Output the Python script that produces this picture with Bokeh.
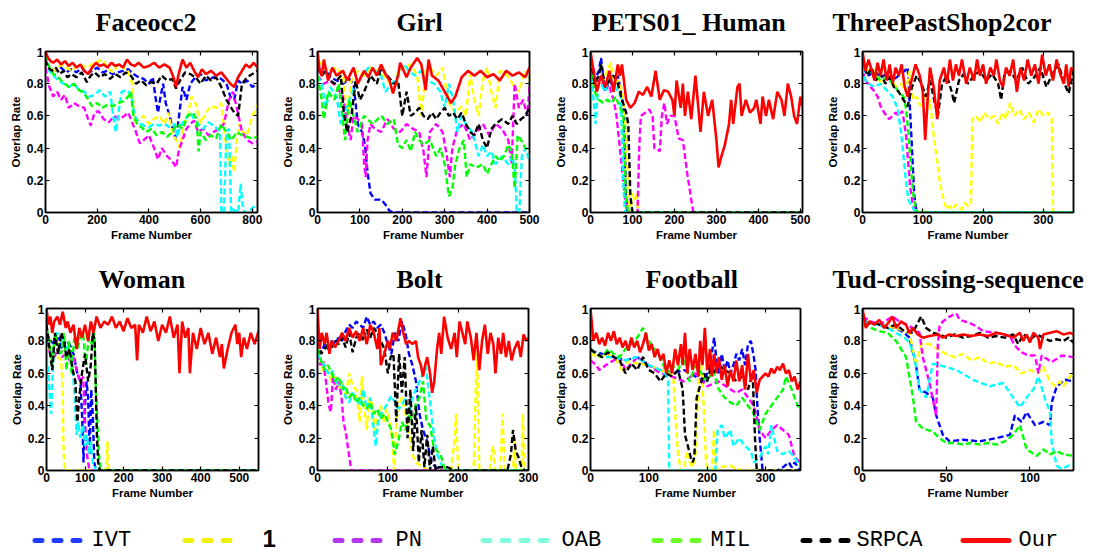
from bokeh.plotting import figure
from bokeh.layouts import column, row
from bokeh.models import FixedTicker, LinearAxis, Range1d, CustomJSTickFormatter
from bokeh.embed import file_html
from bokeh.resources import INLINE
from bokeh.core.properties import value

SERIES = ["IVT", "1", "PN", "OAB", "MIL", "SRPCA", "Our"]
PLOT_COLORS = ["#0000ff", "#ffff00", "#ff00ff", "#00ffff", "#00ff00", "#000000", "#ff0000"]
LEGEND_COLORS = ["#1f3cff", "#eef200", "#b534f2", "#80ffdc", "#6cff26", "#000000", "#ff0a0a"]
Y_TICKS = [0, 0.2, 0.4, 0.6, 0.8, 1]

# ---------------- Faceocc2 ----------------
face_title = "Faceocc2"
face_xmax = 820
face_xticks = [0, 200, 400, 600, 800]
face_ivt_x = [0,20,40,60,80, 100,120,140,160,180, 200,220,240,260,280, 300,320,340,360,380, 400,415,425,435,445, 455,465,480,495,505, 515,530,545,560,580, 600,620,650,680,700, 715,730,745,760,780, 800,820]
face_ivt_y = [0.93,0.9,0.88,0.9,0.87, 0.89,0.87,0.9,0.86,0.88, 0.9,0.87,0.88,0.86,0.87, 0.88,0.89,0.86,0.84,0.83, 0.8,0.84,0.72,0.62,0.72, 0.8,0.68,0.6,0.5,0.45, 0.58,0.78,0.7,0.8,0.84, 0.86,0.82,0.84,0.83,0.8, 0.72,0.7,0.82,0.8,0.82, 0.78,0.8]
face_one_x = [0,20,40,60,80, 100,130,160,190,220, 240,260,280,300,320, 335,345,360,380,400, 420,440,460,475,490, 505,520,535,550,565, 580,600,620,640,660, 680,700,710,720,730, 740,750,765,780,800, 820]
face_one_y = [0.93,0.9,0.88,0.92,0.9, 0.88,0.92,0.9,0.93,0.95, 0.9,0.87,0.92,0.9,0.88, 0.8,0.55,0.58,0.6,0.55, 0.58,0.6,0.55,0.62,0.5, 0.45,0.4,0.55,0.6,0.72, 0.68,0.55,0.62,0.66,0.65, 0.68,0.4,0.3,0.35,0.25, 0.45,0.55,0.5,0.48,0.6, 0.67]
face_pn_x = [0,15,30,45,60, 75,90,110,130,150, 165,175,190,205,225, 245,265,285,305,320, 335,350,365,380,400, 420,435,450,470,490, 505,515,530,545,560, 575,590,610,630,650, 670,690,710,725,740, 760,780,800,820]
face_pn_y = [0.9,0.78,0.72,0.75,0.7, 0.73,0.65,0.68,0.66,0.65, 0.58,0.54,0.62,0.63,0.58, 0.56,0.6,0.58,0.6,0.62, 0.56,0.5,0.43,0.45,0.48, 0.4,0.33,0.4,0.35,0.32, 0.28,0.38,0.45,0.52,0.55, 0.57,0.5,0.52,0.48,0.5, 0.52,0.55,0.7,0.75,0.65, 0.5,0.45,0.43,0.44]
face_oab_x = [0,15,30,50,70, 90,110,130,150,170, 190,210,230,250,262, 272,282,295,310,330, 345,360,380,400,420, 440,460,480,500,510, 520,540,560,575,590, 610,630,650,665,675, 680,690,700,710,718, 725,735,745,755,762, 770,780,795,810,820]
face_oab_y = [0.95,0.88,0.85,0.82,0.8, 0.78,0.8,0.76,0.75,0.72, 0.73,0.76,0.72,0.75,0.6, 0.5,0.62,0.75,0.76,0.74, 0.6,0.56,0.54,0.53,0.55, 0.54,0.55,0.53,0.55,0.47, 0.53,0.58,0.62,0.58,0.55, 0.52,0.56,0.54,0.52,0.5, 0.0,0.0,0.5,0.52,0.0, 0.02,0.01,0.0,0.18,0.05, 0.0,0.0,0.02,0.04,0.05]
face_mil_x = [0,15,30,45,60, 75,90,110,130,150, 165,180,200,220,240, 260,280,300,320,330, 340,355,370,390,410, 430,450,470,490,510, 530,550,570,585,592, 600,620,640,660,680, 700,720,740,760,780, 800,820]
face_mil_y = [0.98,0.9,0.86,0.85,0.82, 0.8,0.78,0.8,0.76,0.74, 0.7,0.66,0.68,0.65,0.67, 0.66,0.68,0.69,0.72,0.75, 0.6,0.55,0.53,0.5,0.52, 0.48,0.5,0.47,0.5,0.55, 0.52,0.6,0.62,0.58,0.38, 0.5,0.45,0.48,0.46,0.55, 0.5,0.45,0.5,0.48,0.47, 0.46,0.47]
face_srpca_x = [0,10,25,40,55, 70,85,100,120,140, 160,175,190,210,230, 250,270,290,310,330, 350,370,390,410,430, 450,470,490,505,520, 540,560,580,600,620, 640,660,680,700,715, 730,745,760,780,800, 820]
face_srpca_y = [0.95,0.9,0.88,0.9,0.86, 0.88,0.84,0.86,0.84,0.87, 0.81,0.85,0.87,0.84,0.86, 0.83,0.86,0.84,0.87,0.85, 0.8,0.82,0.79,0.81,0.8, 0.85,0.82,0.83,0.77,0.82, 0.87,0.86,0.84,0.8,0.85, 0.82,0.84,0.78,0.7,0.66, 0.62,0.6,0.8,0.84,0.86, 0.88]
face_our_x = [0,10,20,30,45, 60,75,90,105,120, 135,150,165,180,195, 210,225,240,255,270, 285,300,315,330,345, 360,380,400,420,440, 460,480,495,505,515, 530,545,560,575,590, 605,620,640,660,680, 700,715,730,745,760, 775,790,805,820]
face_our_y = [1.0,0.96,0.94,0.93,0.95, 0.92,0.94,0.91,0.93,0.9, 0.92,0.88,0.86,0.9,0.93, 0.91,0.92,0.9,0.93,0.91, 0.92,0.9,0.95,0.92,0.91, 0.93,0.9,0.91,0.93,0.9, 0.92,0.9,0.84,0.78,0.86, 0.95,0.9,0.93,0.88,0.84, 0.89,0.86,0.88,0.85,0.87, 0.83,0.8,0.78,0.84,0.88, 0.92,0.9,0.93,0.9]

# ---------------- Girl ----------------
girl_title = "Girl"
girl_xmax = 500
girl_xticks = [0, 100, 200, 300, 400, 500]
girl_ivt_x = [0,10,20,30,45, 60,75,85,95,105, 112,118,125,135,150, 160,170,180,500]
girl_ivt_y = [0.92,0.86,0.88,0.84,0.82, 0.8,0.83,0.8,0.55,0.5, 0.42,0.25,0.12,0.08,0.08, 0.05,0.01,0.0,0.0]
girl_one_x = [0,15,30,45,60, 70,80,95,110,125, 140,150,160,170,180, 190,205,220,235,245, 255,265,280,295,310, 325,340,350,360,370, 380,390,400,410,420, 430,445,460,475,490, 500]
girl_one_y = [0.95,0.9,0.88,0.9,0.85, 0.6,0.82,0.88,0.85,0.9, 0.88,0.86,0.84,0.8,0.75, 0.88,0.9,0.92,0.85,0.6, 0.88,0.9,0.85,0.9,0.68, 0.62,0.66,0.6,0.86,0.7, 0.6,0.82,0.9,0.75,0.65, 0.88,0.86,0.8,0.75,0.88, 0.82]
girl_pn_x = [0,15,30,45,60, 70,78,85,95,105, 110,114,118,125,135, 150,165,180,195,210, 225,240,250,257,265, 280,295,305,312,318, 330,345,360,375,390, 405,420,435,450,458, 465,475,485,495,500]
girl_pn_y = [0.85,0.8,0.82,0.78,0.72, 0.55,0.45,0.6,0.58,0.55, 0.3,0.22,0.45,0.55,0.52, 0.5,0.58,0.52,0.5,0.55, 0.52,0.5,0.38,0.22,0.5, 0.55,0.5,0.35,0.22,0.4, 0.52,0.55,0.45,0.5,0.55, 0.48,0.55,0.52,0.45,0.3, 0.8,0.65,0.7,0.6,0.78]
girl_oab_x = [0,10,20,30,45, 55,65,75,90,105, 120,135,150,160,175, 190,205,215,230,245, 260,275,290,300,310, 320,330,340,350,365, 380,390,400,410,420, 435,450,460,466,470, 476,482,490,500]
girl_oab_y = [0.85,0.8,0.65,0.78,0.72, 0.55,0.62,0.7,0.8,0.85, 0.9,0.88,0.85,0.75,0.8, 0.85,0.92,0.88,0.85,0.88, 0.82,0.8,0.75,0.65,0.8, 0.7,0.5,0.6,0.55,0.5, 0.35,0.42,0.35,0.38,0.3, 0.35,0.3,0.35,0.25,0.0, 0.0,0.35,0.4,0.32]
girl_mil_x = [0,10,15,25,40, 50,58,65,75,85, 95,110,130,150,165, 180,190,200,210,220, 230,240,250,265,280, 290,300,305,310,318, 325,335,345,352,360, 375,390,400,410,420, 430,440,450,458,465, 472,480,490,500]
girl_mil_y = [0.85,0.7,0.58,0.75,0.7, 0.8,0.62,0.45,0.7,0.6, 0.5,0.6,0.55,0.6,0.55, 0.58,0.42,0.4,0.45,0.38, 0.5,0.45,0.42,0.45,0.35, 0.4,0.3,0.2,0.1,0.15, 0.3,0.4,0.45,0.22,0.3, 0.28,0.3,0.24,0.3,0.35, 0.32,0.35,0.42,0.38,0.15, 0.48,0.45,0.4,0.38]
girl_srpca_x = [0,10,20,30,40, 55,62,70,80,90, 100,110,125,140,150, 165,180,190,200,210, 220,230,240,250,260, 270,280,290,300,310, 320,330,340,350,360, 370,380,390,400,410, 420,435,450,460,470, 480,490,500]
girl_srpca_y = [0.9,0.85,0.88,0.82,0.8, 0.85,0.62,0.5,0.6,0.82, 0.7,0.75,0.85,0.8,0.9, 0.85,0.8,0.82,0.6,0.75, 0.6,0.62,0.65,0.6,0.58, 0.62,0.58,0.62,0.65,0.6, 0.62,0.58,0.62,0.55,0.5, 0.48,0.55,0.45,0.4,0.52, 0.55,0.58,0.55,0.6,0.55, 0.58,0.6,0.65]
girl_our_x = [0,5,10,15,25, 35,45,60,70,85, 95,110,120,130,140, 150,160,170,178,190, 195,210,220,235,245, 255,262,270,285,300, 315,325,340,355,370, 385,400,415,430,445, 460,475,490,500]
girl_our_y = [1.0,0.88,0.85,0.95,0.82, 0.9,0.85,0.88,0.82,0.9, 0.8,0.88,0.84,0.9,0.85, 0.92,0.86,0.82,0.74,0.85, 0.93,0.84,0.9,0.96,0.92, 0.76,0.95,0.85,0.82,0.75, 0.68,0.72,0.84,0.88,0.85, 0.88,0.84,0.86,0.82,0.88, 0.85,0.87,0.84,0.9]

# ---------------- PETS01_ Human ----------------
pets_title = "PETS01_ Human"
pets_xmax = 505
pets_xticks = [0, 100, 200, 300, 400, 500]
pets_ivt_x = [0,10,20,25,35, 45,55,65,75,80, 85,88,505]
pets_ivt_y = [0.95,0.82,0.88,0.96,0.75, 0.82,0.78,0.85,0.72,0.6, 0.1,0.0,0.0]
pets_one_x = [0,10,20,30,40, 48,55,65,75,85, 90,95,100,105,110, 113,116,505]
pets_one_y = [0.95,0.8,0.85,0.82,0.88, 0.93,0.8,0.82,0.75,0.5, 0.1,0.0,0.12,0.08,0.12, 0.0,0.0,0.0]
pets_pn_x = [0,15,30,45,55, 62,70,78,84,88, 112,116,120,130,140, 148,152,158,165,170, 176,182,190,200,210, 220,230,240,245,505]
pets_pn_y = [0.95,0.82,0.8,0.78,0.7, 0.6,0.4,0.2,0.05,0.0, 0.0,0.4,0.6,0.62,0.64, 0.6,0.4,0.4,0.38,0.6, 0.68,0.55,0.6,0.6,0.46, 0.45,0.25,0.08,0.0,0.0]
pets_oab_x = [0,8,12,18,25, 35,45,55,65,72, 78,82,505]
pets_oab_y = [0.9,0.68,0.55,0.78,0.8, 0.75,0.85,0.8,0.75,0.72, 0.2,0.0,0.0]
pets_mil_x = [0,10,20,30,40, 50,60,70,78,84, 90,505]
pets_mil_y = [0.92,0.75,0.7,0.68,0.7, 0.68,0.72,0.65,0.62,0.1, 0.0,0.0]
pets_srpca_x = [0,10,20,25,35, 45,55,65,75,85, 90,95,100,505]
pets_srpca_y = [0.95,0.8,0.85,0.92,0.78, 0.82,0.85,0.8,0.7,0.62, 0.55,0.1,0.0,0.0]
pets_our_x = [0,15,25,35,45, 55,65,70,75,85, 95,105,115,125,135, 145,155,165,175,185, 195,200,205,215,220, 225,232,240,250,262, 270,280,290,300,305, 312,320,330,335,340, 350,355,360,370,380, 390,395,405,410,418, 425,435,445,455,462, 470,478,485,492,500, 505]
pets_our_y = [1.0,0.75,0.85,0.78,0.88, 0.75,0.92,0.85,0.92,0.7, 0.65,0.68,0.75,0.73,0.78, 0.72,0.88,0.7,0.76,0.75, 0.7,0.6,0.82,0.65,0.8, 0.6,0.75,0.58,0.85,0.5, 0.75,0.6,0.7,0.45,0.28, 0.35,0.42,0.55,0.7,0.55, 0.78,0.8,0.6,0.7,0.62, 0.65,0.7,0.55,0.72,0.6, 0.7,0.58,0.75,0.7,0.6, 0.8,0.72,0.6,0.55,0.72, 0.66]

# ---------------- ThreePastShop2cor ----------------
shop_title = "ThreePastShop2cor"
shop_xmax = 350
shop_xticks = [0, 100, 200, 300]
shop_ivt_x = [0,10,20,30,40, 50,60,70,75,78, 82,86,90,350]
shop_ivt_y = [0.9,0.85,0.88,0.84,0.86, 0.82,0.85,0.88,0.9,0.7, 0.4,0.1,0.0,0.0]
shop_one_x = [0,8,16,24,32, 40,48,56,64,72, 78,84,90,96,102, 108,112,116,120,124, 128,132,136,140,145, 150,155,160,165,170, 175,180,182,188,195, 202,210,218,225,232, 238,245,252,260,268, 276,284,292,300,308, 314,316,350]
shop_one_y = [0.93,0.88,0.9,0.84,0.8, 0.85,0.82,0.78,0.8,0.75, 0.88,0.7,0.72,0.66,0.74, 0.65,0.7,0.55,0.42,0.32, 0.2,0.12,0.06,0.02,0.04, 0.02,0.05,0.03,0.02,0.06, 0.04,0.06,0.58,0.6,0.56, 0.62,0.58,0.6,0.55,0.62, 0.58,0.68,0.6,0.64,0.58, 0.62,0.56,0.64,0.6,0.62, 0.58,0.0,0.0]
shop_pn_x = [0,5,11,18,25, 30,36,44,50,55, 60,66,72,76,79, 83,88,350]
shop_pn_y = [0.88,0.82,0.79,0.76,0.72, 0.66,0.62,0.58,0.6,0.62, 0.6,0.63,0.49,0.3,0.16, 0.06,0.0,0.0]
shop_oab_x = [0,5,10,20,30, 40,50,58,64,68, 72,76,80,85,90, 350]
shop_oab_y = [0.9,0.82,0.8,0.78,0.8, 0.76,0.72,0.65,0.5,0.35, 0.2,0.08,0.05,0.02,0.0, 0.0]
shop_mil_x = [0,10,20,30,40, 50,60,68,72,76, 80,84,88,92,350]
shop_mil_y = [0.92,0.88,0.86,0.82,0.84, 0.8,0.75,0.72,0.65,0.5, 0.3,0.12,0.03,0.0,0.0]
shop_srpca_x = [0,8,15,22,30, 38,45,52,60,68, 75,82,90,98,105, 112,120,125,132,140, 148,152,160,168,175, 185,195,205,215,225, 230,235,245,255,265, 275,285,295,305,315, 325,335,342,350]
shop_srpca_y = [0.95,0.85,0.9,0.82,0.86, 0.8,0.84,0.78,0.75,0.7, 0.66,0.78,0.85,0.8,0.72, 0.82,0.68,0.6,0.8,0.85, 0.75,0.68,0.82,0.86,0.8, 0.85,0.88,0.82,0.86,0.8, 0.7,0.85,0.88,0.82,0.9, 0.8,0.84,0.9,0.78,0.86, 0.92,0.8,0.74,0.88]
shop_our_x = [0,5,10,20,25, 30,35,40,45,50, 55,60,65,70,75, 80,88,95,100,104, 108,112,118,124,128, 135,140,145,150,155, 160,165,172,178,185, 190,195,200,205,212, 218,222,228,233,238, 244,250,256,262,268, 274,280,286,292,298, 304,310,316,322,328, 334,338,342,346,350]
shop_our_y = [1.0,0.88,0.95,0.82,0.93, 0.85,0.95,0.82,0.92,0.8, 0.9,0.85,0.92,0.78,0.72, 0.8,0.92,0.85,0.75,0.45, 0.7,0.9,0.78,0.58,0.82, 0.9,0.8,0.95,0.82,0.92, 0.85,0.95,0.8,0.9,0.82, 0.95,0.85,0.92,0.8,0.9, 0.85,0.95,0.82,0.78,0.9, 0.85,0.95,0.75,0.9,0.82, 0.95,0.85,0.92,0.8,0.98, 0.85,0.92,0.82,0.95,0.86, 0.8,0.92,0.78,0.9,0.88]

# ---------------- Woman ----------------
woman_title = "Woman"
woman_xmax = 550
woman_xticks = [0, 100, 200, 300, 400, 500]
woman_ivt_x = [0,10,20,30,40, 50,60,70,80,88, 93,96,100,104,108, 112,116,120,124,128, 550]
woman_ivt_y = [0.85,0.8,0.78,0.82,0.75, 0.8,0.78,0.72,0.6,0.55, 0.3,0.05,0.4,0.55,0.45, 0.1,0.5,0.35,0.05,0.0, 0.0]
woman_one_x = [0,10,20,30,38, 42,44,46,48,150, 155,158,160,163,550]
woman_one_y = [0.78,0.72,0.7,0.7,0.68, 0.5,0.15,0.05,0.0,0.0, 0.02,0.18,0.02,0.0,0.0]
woman_pn_x = [0,10,20,30,40, 50,60,70,80,88, 95,100,105,110,115, 550]
woman_pn_y = [0.8,0.72,0.7,0.75,0.7, 0.72,0.68,0.7,0.6,0.55, 0.58,0.3,0.1,0.02,0.0, 0.0]
woman_oab_x = [0,5,10,12,15, 20,28,35,45,55, 65,72,78,82,88, 95,100,105,110,115, 120,125,130,550]
woman_oab_y = [0.7,0.6,0.4,0.35,0.55, 0.8,0.85,0.82,0.78,0.75, 0.7,0.5,0.22,0.3,0.2, 0.28,0.15,0.22,0.1,0.18, 0.05,0.02,0.0,0.0]
woman_mil_x = [0,8,15,22,30, 38,45,52,58,65, 72,80,88,95,102, 110,118,124,128,132, 136,140,550]
woman_mil_y = [0.88,0.8,0.65,0.85,0.78, 0.72,0.85,0.62,0.8,0.6, 0.82,0.75,0.82,0.85,0.65, 0.82,0.78,0.85,0.5,0.3, 0.1,0.0,0.0]
woman_srpca_x = [0,8,15,22,30, 38,45,52,60,68, 75,80,85,92,100, 108,115,120,125,128, 131,134,138,550]
woman_srpca_y = [0.9,0.75,0.62,0.85,0.72, 0.85,0.8,0.7,0.75,0.62, 0.55,0.3,0.45,0.6,0.72, 0.55,0.65,0.85,0.8,0.5, 0.2,0.05,0.0,0.0]
woman_our_x = [0,5,10,15,20, 28,35,42,50,55, 62,70,78,85,92, 100,108,115,122,130, 140,150,160,170,180, 190,200,210,220,230, 235,240,250,260,270, 280,290,300,310,320, 330,340,345,352,360, 368,372,380,390,400, 410,420,430,440,450, 455,460,470,480,490, 495,500,505,512,520, 530,540,550]
woman_our_y = [1.0,0.9,0.95,0.85,0.92, 0.95,0.9,0.98,0.88,0.92, 0.85,0.9,0.75,0.88,0.82, 0.9,0.8,0.92,0.85,0.95, 0.88,0.92,0.9,0.95,0.88, 0.92,0.86,0.94,0.88,0.9, 0.68,0.9,0.85,0.95,0.86, 0.92,0.8,0.9,0.85,0.95, 0.82,0.9,0.6,0.92,0.82, 0.88,0.6,0.85,0.75,0.88, 0.78,0.85,0.72,0.82,0.7, 0.78,0.63,0.75,0.85,0.9, 0.78,0.85,0.7,0.82,0.75, 0.85,0.78,0.86]

# ---------------- Bolt ----------------
bolt_title = "Bolt"
bolt_xmax = 300
bolt_xticks = [0, 100, 200, 300]
bolt_ivt_x = [0,5,10,15,20, 25,30,35,40,45, 50,55,60,65,70, 75,80,85,90,95, 100,105,110,115,120, 125,130,135,140,145, 150,156,162,168,175, 300]
bolt_ivt_y = [0.85,0.72,0.78,0.75,0.8, 0.78,0.82,0.8,0.86,0.9, 0.88,0.92,0.9,0.88,0.95, 0.9,0.92,0.88,0.9,0.85, 0.78,0.72,0.85,0.8,0.92, 0.85,0.72,0.65,0.55,0.35, 0.25,0.18,0.05,0.02,0.0, 0.0]
bolt_one_x = [0,5,10,15,20, 25,30,35,40,45, 50,55,60,63,66, 70,74,78,82,86, 90,94,98,102,106, 109,112,116,120,125, 130,135,140,150,160, 190,195,197,200,222, 225,227,230,245,248, 250,252,260,263,266, 278,280,282,290,292, 294,300]
bolt_one_y = [0.75,0.65,0.6,0.62,0.55, 0.58,0.5,0.55,0.45,0.6, 0.52,0.5,0.3,0.58,0.4, 0.25,0.45,0.4,0.22,0.35, 0.4,0.3,0.38,0.32,0.2, 0.0,0.3,0.42,0.45,0.35, 0.25,0.1,0.05,0.02,0.0, 0.0,0.2,0.35,0.0,0.0, 0.5,0.73,0.0,0.0,0.12, 0.15,0.0,0.0,0.35,0.0, 0.0,0.2,0.0,0.0,0.35, 0.0,0.0]
bolt_pn_x = [0,4,8,12,16, 19,22,26,30,34, 37,40,44,48,300]
bolt_pn_y = [0.72,0.65,0.68,0.55,0.4, 0.36,0.58,0.5,0.55,0.46, 0.3,0.24,0.12,0.0,0.0]
bolt_oab_x = [0,5,10,15,20, 25,30,35,40,45, 50,55,60,65,70, 75,80,83,86,90, 95,100,105,110,115, 120,125,130,135,140, 145,150,154,158,162, 166,170,175,180,300]
bolt_oab_y = [0.72,0.68,0.65,0.6,0.62, 0.56,0.52,0.55,0.45,0.42, 0.48,0.44,0.4,0.5,0.38, 0.45,0.25,0.15,0.3,0.35, 0.38,0.42,0.46,0.42,0.38, 0.4,0.45,0.35,0.45,0.5, 0.55,0.6,0.64,0.5,0.35, 0.2,0.1,0.05,0.0,0.0]
bolt_mil_x = [0,5,10,15,20, 25,30,35,40,45, 50,55,60,65,70, 75,80,85,90,95, 100,105,110,115,120, 125,130,135,140,145, 150,155,160,165,170, 175,180,185,300]
bolt_mil_y = [0.75,0.68,0.62,0.65,0.6, 0.55,0.58,0.5,0.52,0.45, 0.48,0.42,0.45,0.4,0.38, 0.42,0.35,0.38,0.32,0.35, 0.3,0.25,0.1,0.18,0.3, 0.25,0.35,0.28,0.42,0.45, 0.55,0.3,0.28,0.15,0.12, 0.1,0.02,0.0,0.0]
bolt_srpca_x = [0,5,10,15,20, 25,30,35,40,45, 50,55,60,65,70, 75,80,85,90,95, 100,104,108,112,116, 120,124,128,132,136, 140,144,148,152,156, 160,164,168,172,185, 195,270,275,278,282, 286,290,295,300]
bolt_srpca_y = [0.85,0.72,0.75,0.78,0.76, 0.8,0.78,0.82,0.76,0.85, 0.73,0.82,0.85,0.8,0.87, 0.82,0.88,0.85,0.8,0.75, 0.6,0.7,0.72,0.3,0.72, 0.48,0.7,0.2,0.5,0.12, 0.4,0.05,0.25,0.02,0.22, 0.0,0.15,0.0,0.02,0.02, 0.0,0.0,0.1,0.25,0.12, 0.08,0.02,0.0,0.0]
bolt_our_x = [0,3,6,10,13, 17,20,25,30,35, 40,45,50,55,60, 65,70,75,80,85, 88,90,95,100,103, 107,112,118,122,126, 130,135,140,143,147, 150,153,156,160,163, 166,170,173,176,180, 185,190,195,198,202, 206,210,213,218,222, 226,230,234,238,242, 246,250,253,257,261, 264,268,272,276,280, 285,289,293,297,300]
bolt_our_y = [1.0,0.75,0.85,0.78,0.85, 0.72,0.8,0.76,0.8,0.85, 0.8,0.88,0.82,0.86,0.8, 0.88,0.78,0.9,0.85,0.75, 0.88,0.65,0.72,0.8,0.75, 0.85,0.8,0.94,0.85,0.78, 0.8,0.78,0.8,0.7,0.65, 0.58,0.65,0.7,0.6,0.48, 0.55,0.75,0.85,0.72,0.95, 0.82,0.75,0.85,0.7,0.92, 0.85,0.78,0.92,0.82,0.68, 0.85,0.62,0.8,0.9,0.72, 0.85,0.78,0.6,0.82,0.72, 0.85,0.7,0.8,0.68,0.75, 0.8,0.7,0.84,0.8,0.82]

# ---------------- Football ----------------
foot_title = "Football"
foot_xmax = 360
foot_xticks = [0, 100, 200, 300]
foot_ivt_x = [0,20,40,60,80, 100,120,140,160,180, 195,205,212,216,220, 225,230,235,240,245, 250,255,260,265,270, 275,280,283,286,290, 295,300,320,330,340, 345,350,360]
foot_ivt_y = [0.74,0.72,0.7,0.68,0.7, 0.65,0.62,0.6,0.62,0.58, 0.55,0.65,0.82,0.68,0.6, 0.72,0.62,0.68,0.6,0.65, 0.72,0.68,0.75,0.65,0.78, 0.8,0.7,0.62,0.4,0.2, 0.0,0.0,0.0,0.02,0.05, 0.02,0.05,0.0]
foot_one_x = [0,15,30,45,57, 65,80,100,120,135, 142,146,150,155,160, 165,170,175,180,185, 190,194,198,202,208, 212,215,220,240,250, 260,360]
foot_one_y = [0.72,0.7,0.72,0.68,0.6, 0.68,0.66,0.65,0.62,0.6, 0.58,0.3,0.1,0.0,0.0, 0.12,0.05,0.02,0.1,0.55, 0.65,0.4,0.05,0.0,0.0, 0.25,0.0,0.02,0.03,0.01, 0.0,0.0]
foot_pn_x = [0,10,15,30,50, 60,80,100,120,140, 160,180,200,220,240, 250,260,270,280,290, 300,310,320,330,340, 345,350,360]
foot_pn_y = [0.68,0.65,0.62,0.66,0.7, 0.62,0.7,0.65,0.6,0.58, 0.55,0.6,0.52,0.55,0.5, 0.48,0.5,0.45,0.4,0.25, 0.2,0.25,0.28,0.25,0.22, 0.15,0.08,0.05]
foot_oab_x = [0,20,40,60,80, 100,120,130,133,135, 214,218,225,230,240, 245,255,265,275,280, 290,300,305,310,320, 330,340,350,360]
foot_oab_y = [0.75,0.7,0.7,0.68,0.7, 0.65,0.62,0.58,0.55,0.0, 0.0,0.25,0.28,0.2,0.25, 0.15,0.2,0.15,0.12,0.05, 0.08,0.15,0.1,0.28,0.12, 0.1,0.12,0.08,0.02]
foot_mil_x = [0,10,20,30,40, 50,60,70,80,90, 100,110,120,130,140, 150,160,170,180,190, 200,210,220,230,240, 250,260,270,280,285, 290,300,310,320,330, 335,345,350,355,360]
foot_mil_y = [0.75,0.72,0.7,0.75,0.72, 0.7,0.75,0.78,0.82,0.88, 0.8,0.75,0.7,0.6,0.65, 0.62,0.7,0.55,0.65,0.6, 0.55,0.62,0.5,0.45,0.42, 0.4,0.45,0.4,0.35,0.3, 0.25,0.35,0.4,0.45,0.5, 0.58,0.5,0.45,0.4,0.38]
foot_srpca_x = [0,10,20,30,40, 50,60,70,80,90, 100,110,120,130,140, 150,155,158,162,167, 172,175,178,182,190, 195,200,205,210,220, 230,240,250,260,270, 278,282,285,360]
foot_srpca_y = [0.75,0.72,0.7,0.73,0.7, 0.68,0.6,0.66,0.62,0.7, 0.62,0.6,0.55,0.6,0.58, 0.62,0.55,0.5,0.22,0.15, 0.08,0.05,0.08,0.45,0.55, 0.6,0.55,0.62,0.6,0.65, 0.62,0.6,0.55,0.58,0.5, 0.6,0.2,0.0,0.0]
foot_our_x = [0,5,10,15,20, 25,30,35,40,45, 50,55,60,65,70, 75,80,85,90,95, 100,105,110,115,120, 125,130,135,140,145, 150,155,158,162,166, 170,175,180,185,188, 192,196,200,205,208, 212,216,220,225,230, 235,240,245,250,255, 260,265,270,275,280, 285,290,300,305,310, 315,320,325,330,335, 340,345,350,355,360]
foot_our_y = [1.0,0.8,0.85,0.78,0.82, 0.77,0.85,0.8,0.86,0.78, 0.82,0.76,0.8,0.74,0.82, 0.76,0.8,0.73,0.78,0.85, 0.74,0.78,0.7,0.75,0.68, 0.72,0.6,0.68,0.6,0.75, 0.65,0.78,0.65,0.85,0.6, 0.75,0.62,0.72,0.58,0.8, 0.65,0.88,0.62,0.75,0.58, 0.72,0.6,0.7,0.56,0.65, 0.52,0.62,0.55,0.68,0.55, 0.65,0.5,0.72,0.55,0.62, 0.48,0.56,0.6,0.58,0.63, 0.6,0.64,0.62,0.66,0.6, 0.62,0.55,0.58,0.5,0.55]

# ---------------- Tud-crossing-sequence ----------------
tud_title = "Tud-crossing-sequence"
tud_xmax = 126
tud_xticks = [0, 50, 100]
tud_ivt_x = [0,10,20,25,28, 32,34,38,42,44, 48,52,60,70,80, 88,91,95,98,103, 108,112,113,116,121, 126]
tud_ivt_y = [0.92,0.9,0.88,0.85,0.82, 0.65,0.5,0.48,0.45,0.34, 0.22,0.18,0.19,0.18,0.2, 0.22,0.34,0.3,0.36,0.28, 0.3,0.28,0.42,0.52,0.56, 0.55]
tud_one_x = [0,10,20,28,32, 35,40,45,50,55, 60,65,70,75,80, 85,90,95,100,105, 108,112,115,118,120, 124,126]
tud_one_y = [0.92,0.9,0.88,0.85,0.65, 0.78,0.78,0.75,0.72,0.7, 0.72,0.68,0.7,0.66,0.67, 0.64,0.65,0.6,0.62,0.6, 0.64,0.55,0.52,0.55,0.52, 0.58,0.6]
tud_pn_x = [0,5,10,18,22, 26,30,34,36,40, 44,45,46,48,52, 56,58,64,68,72, 80,88,91,95,99, 103,105,107,113,119, 126]
tud_pn_y = [0.95,0.92,0.9,0.95,0.92, 0.9,0.88,0.85,0.7,0.54, 0.34,0.78,0.89,0.92,0.95, 0.97,0.93,0.91,0.89,0.86, 0.85,0.83,0.77,0.73,0.71, 0.71,0.6,0.71,0.67,0.71, 0.7]
tud_oab_x = [0,8,15,20,25, 28,31,34,38,42, 46,56,66,76,84, 90,94,98,102,105, 109,112,113,116,119, 123,126]
tud_oab_y = [0.92,0.9,0.88,0.85,0.82, 0.79,0.7,0.5,0.45,0.66, 0.65,0.62,0.56,0.52,0.54, 0.45,0.39,0.45,0.5,0.58, 0.44,0.36,0.17,0.03,0.01, 0.03,0.04]
tud_mil_x = [0,5,10,15,20, 26,30,32,36,42, 46,50,55,60,65, 70,75,80,85,90, 94,98,104,108,112, 116,120,126]
tud_mil_y = [0.9,0.88,0.86,0.85,0.8, 0.7,0.46,0.3,0.26,0.24, 0.2,0.17,0.17,0.16,0.17, 0.16,0.17,0.16,0.18,0.22, 0.28,0.13,0.09,0.13,0.1, 0.12,0.1,0.09]
tud_srpca_x = [0,3,6,10,15, 20,25,30,35,38, 42,46,50,55,60, 65,70,75,80,85, 90,93,96,100,104, 108,112,116,120,123, 126]
tud_srpca_y = [0.95,0.9,0.92,0.9,0.88, 0.9,0.86,0.85,0.95,0.88, 0.85,0.84,0.82,0.84,0.82, 0.83,0.85,0.82,0.83,0.82, 0.84,0.78,0.84,0.81,0.84, 0.82,0.8,0.81,0.8,0.82, 0.79]
tud_our_x = [0,2,4,7,10, 13,16,18,20,23, 26,28,30,33,36, 40,45,48,52,56, 60,65,70,75,80, 85,90,94,96,98, 100,102,105,106,108, 112,116,120,124,126]
tud_our_y = [1.0,0.88,0.92,0.9,0.93, 0.88,0.92,0.95,0.88,0.92, 0.9,0.85,0.88,0.84,0.82, 0.83,0.84,0.82,0.84,0.83, 0.84,0.83,0.84,0.83,0.85, 0.84,0.82,0.85,0.8,0.84, 0.79,0.85,0.82,0.75,0.84, 0.85,0.86,0.84,0.85,0.84]

CHARTS = [
    (face_title, face_xmax, face_xticks, [(face_ivt_x, face_ivt_y), (face_one_x, face_one_y), (face_pn_x, face_pn_y), (face_oab_x, face_oab_y), (face_mil_x, face_mil_y), (face_srpca_x, face_srpca_y), (face_our_x, face_our_y)]),
    (girl_title, girl_xmax, girl_xticks, [(girl_ivt_x, girl_ivt_y), (girl_one_x, girl_one_y), (girl_pn_x, girl_pn_y), (girl_oab_x, girl_oab_y), (girl_mil_x, girl_mil_y), (girl_srpca_x, girl_srpca_y), (girl_our_x, girl_our_y)]),
    (pets_title, pets_xmax, pets_xticks, [(pets_ivt_x, pets_ivt_y), (pets_one_x, pets_one_y), (pets_pn_x, pets_pn_y), (pets_oab_x, pets_oab_y), (pets_mil_x, pets_mil_y), (pets_srpca_x, pets_srpca_y), (pets_our_x, pets_our_y)]),
    (shop_title, shop_xmax, shop_xticks, [(shop_ivt_x, shop_ivt_y), (shop_one_x, shop_one_y), (shop_pn_x, shop_pn_y), (shop_oab_x, shop_oab_y), (shop_mil_x, shop_mil_y), (shop_srpca_x, shop_srpca_y), (shop_our_x, shop_our_y)]),
    (woman_title, woman_xmax, woman_xticks, [(woman_ivt_x, woman_ivt_y), (woman_one_x, woman_one_y), (woman_pn_x, woman_pn_y), (woman_oab_x, woman_oab_y), (woman_mil_x, woman_mil_y), (woman_srpca_x, woman_srpca_y), (woman_our_x, woman_our_y)]),
    (bolt_title, bolt_xmax, bolt_xticks, [(bolt_ivt_x, bolt_ivt_y), (bolt_one_x, bolt_one_y), (bolt_pn_x, bolt_pn_y), (bolt_oab_x, bolt_oab_y), (bolt_mil_x, bolt_mil_y), (bolt_srpca_x, bolt_srpca_y), (bolt_our_x, bolt_our_y)]),
    (foot_title, foot_xmax, foot_xticks, [(foot_ivt_x, foot_ivt_y), (foot_one_x, foot_one_y), (foot_pn_x, foot_pn_y), (foot_oab_x, foot_oab_y), (foot_mil_x, foot_mil_y), (foot_srpca_x, foot_srpca_y), (foot_our_x, foot_our_y)]),
    (tud_title, tud_xmax, tud_xticks, [(tud_ivt_x, tud_ivt_y), (tud_one_x, tud_one_y), (tud_pn_x, tud_pn_y), (tud_oab_x, tud_oab_y), (tud_mil_x, tud_mil_y), (tud_srpca_x, tud_srpca_y), (tud_our_x, tud_our_y)]),
]

# ----- layout constants (pixels) -----
PAGE_W = 1096
# chart geometry: (border_left, frame_width, border_right, border_top, frame_height, border_bottom)
GEOM = [
    (45, 212, 21, 4, 161, 47),
    (39, 212, 19, 4, 161, 47),
    (42, 212, 16, 4, 161, 47),
    (44, 211, 23, 4, 161, 47),
    (46, 212, 20, 4, 162, 30),
    (39, 211, 20, 4, 162, 30),
    (42, 210, 18, 4, 162, 30),
    (44, 211, 23, 4, 162, 30),
]
STRIP_H = [47, 45]          # title strip heights above row 1 / row 2
STRIP_TEXT_Y = [25.5, 25.5]  # title centre, px above strip bottom
TITLE_LEFT = [95, 396, 591, 832, 98, 396, 645, 832]

TICK_FONT = "Liberation Sans"

def style_axis(ax, ticks, labels=True, fmt=None):
    ax.ticker = FixedTicker(ticks=ticks)
    ax.major_tick_in = 4
    ax.major_tick_out = 0
    ax.minor_tick_line_color = None
    ax.axis_line_width = 1.5
    ax.axis_line_color = "black"
    ax.major_tick_line_width = 1.2
    ax.major_tick_line_color = "black"
    if labels:
        ax.major_label_text_font = TICK_FONT
        ax.major_label_text_font_style = "bold"
        ax.major_label_text_font_size = "12px"
        ax.major_label_text_color = "black"
        ax.major_label_standoff = 2
        ax.axis_label_text_font = TICK_FONT
        ax.axis_label_text_font_style = "bold"
        ax.axis_label_text_font_size = "11.5px"
        ax.axis_label_text_color = "black"
        ax.axis_label_standoff = 2
        if fmt is not None:
            ax.formatter = fmt
    else:
        ax.major_label_text_font_size = "0px"
        ax.major_label_text_color = None
        ax.major_label_standoff = 0

def make_chart(spec, geom):
    title, xmax, xticks, series = spec
    bl, fw, br, bt, fh, bb = geom
    p = figure(frame_width=fw, frame_height=fh,
               min_border_left=bl, min_border_right=br,
               min_border_top=bt, min_border_bottom=bb,
               x_range=Range1d(0, xmax), y_range=Range1d(0, 1),
               toolbar_location=None, tools="", output_backend="svg",
               background_fill_color="white", border_fill_color="white")
    p.grid.visible = False
    p.outline_line_color = "black"
    p.outline_line_width = 1.5
    style_axis(p.xaxis[0], xticks)
    p.xaxis[0].axis_label = "Frame Number"
    yfmt = CustomJSTickFormatter(code="return (Math.round(tick*10)/10).toString();")
    style_axis(p.yaxis[0], Y_TICKS, fmt=yfmt)
    p.yaxis[0].axis_label = "Overlap Rate"
    ra = LinearAxis()
    style_axis(ra, Y_TICKS, labels=False)
    p.add_layout(ra, "right")
    ta = LinearAxis()
    style_axis(ta, xticks, labels=False)
    p.add_layout(ta, "above")
    for i, (xs, ys) in enumerate(series):
        n = min(len(xs), len(ys))
        if SERIES[i] == "Our":
            p.line(xs[:n], ys[:n], line_color=PLOT_COLORS[i], line_width=2.6)
        else:
            p.line(xs[:n], ys[:n], line_color=PLOT_COLORS[i], line_width=2.4, line_dash="6 3")
    return p

def make_strip(h, titles, lefts, ty):
    s = figure(frame_width=PAGE_W, frame_height=h, min_border=0,
               x_range=Range1d(0, PAGE_W), y_range=Range1d(0, h),
               toolbar_location=None, tools="", output_backend="svg",
               x_axis_location=None, y_axis_location=None)
    s.grid.visible = False
    s.outline_line_color = None
    s.text(lefts, [ty] * len(titles), text=titles, text_font=value("Liberation Serif"),
           text_font_style="bold", text_font_size="26px", text_baseline="middle",
           text_align="left", text_color="black")
    return s

figs = [make_chart(s, g) for s, g in zip(CHARTS, GEOM)]
titles = [c[0] for c in CHARTS]
strip1 = make_strip(STRIP_H[0], titles[:4], TITLE_LEFT[:4], STRIP_TEXT_Y[0])
strip2 = make_strip(STRIP_H[1], titles[4:], TITLE_LEFT[4:], STRIP_TEXT_Y[1])

# legend strip
LEG_H = 52
LEG_Y = 13
LEG_ONE_Y = 15.5
leg_seg_x0 = [34.5, 184.5, 334.5, 482.5, 653.5, 802.5, 962.5]
leg_seg_x1 = [79.5, 229.5, 379.5, 553.5, 698.5, 847.5, 1008.5]
leg_lab_x = [91, 262, 395, 561, 710, 856, 1018]

lg = figure(frame_width=PAGE_W, frame_height=LEG_H, min_border=0,
            x_range=Range1d(0, PAGE_W), y_range=Range1d(0, LEG_H),
            toolbar_location=None, tools="", output_backend="svg",
            x_axis_location=None, y_axis_location=None)
lg.grid.visible = False
lg.outline_line_color = None
for i, name in enumerate(SERIES):
    dash = "solid" if name == "Our" else "7 12"
    lg.line([leg_seg_x0[i], leg_seg_x1[i]], [LEG_Y, LEG_Y], line_color=LEGEND_COLORS[i],
            line_width=5, line_dash=dash, line_cap="round")
    if name == "1":
        lg.text([leg_lab_x[i]], [LEG_ONE_Y], text=[name], text_font=value("Liberation Sans"),
                text_font_style="bold", text_font_size="24px", text_baseline="middle",
                text_align="left", text_color="black")
    else:
        lg.text([leg_lab_x[i]], [LEG_Y], text=[name], text_font=value("Liberation Mono"),
                text_font_size="22px", text_baseline="middle", text_align="left",
                text_color="black")

layout = column(strip1, row(*figs[:4]), strip2, row(*figs[4:]), lg)
open("out.html", "w").write(file_html(layout, INLINE))
